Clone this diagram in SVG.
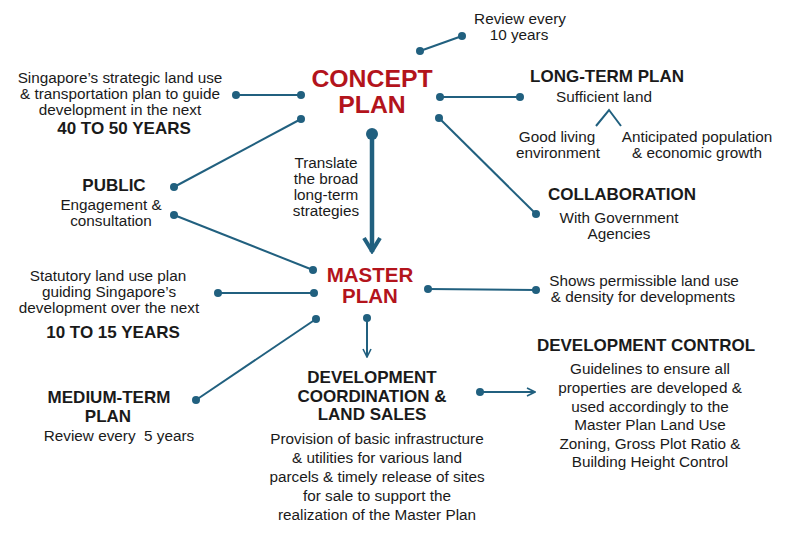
<svg xmlns="http://www.w3.org/2000/svg" width="790" height="535" viewBox="0 0 790 535">
<defs>
<style>
text{font-family:"Liberation Sans",Arial,sans-serif;fill:#1a1a1a;text-anchor:middle}
.b{font-size:15.3px}
.h{font-size:17px;font-weight:bold}
.t{font-weight:bold;fill:#b3141c}
.c{stroke:#21607f;stroke-width:2;fill:none}
.d{fill:#21607f}
</style>
<marker id="chev" viewBox="0 0 10 10" refX="9" refY="5" markerWidth="10" markerHeight="10" markerUnits="userSpaceOnUse" orient="auto"><path d="M1,1 L9,5 L1,9" fill="none" stroke="#21607f" stroke-width="1.6"/></marker>
<marker id="chevb" viewBox="0 0 20 20" refX="18" refY="10" markerWidth="20" markerHeight="20" markerUnits="userSpaceOnUse" orient="auto"><path d="M4,2 L17,10 L4,18" fill="none" stroke="#21607f" stroke-width="4"/></marker>
</defs>
<rect width="790" height="535" fill="#ffffff"/>
<g id="connectors">
<line class="c" x1="420" y1="51" x2="462" y2="36"/>
<line class="c" x1="236" y1="95" x2="301" y2="95"/>
<line class="c" x1="301" y1="119" x2="174" y2="187"/>
<line class="c" x1="174" y1="215" x2="313" y2="270"/>
<line class="c" x1="218" y1="293" x2="314" y2="293"/>
<line class="c" x1="316" y1="319" x2="196" y2="400"/>
<line class="c" x1="367" y1="318" x2="367" y2="357" marker-end="url(#chev)"/>
<line class="c" x1="428" y1="289" x2="536" y2="290"/>
<line class="c" x1="480" y1="392" x2="535" y2="392" marker-end="url(#chev)"/>
<line class="c" x1="440" y1="97" x2="520" y2="97"/>
<line class="c" x1="439" y1="118" x2="536" y2="214"/>
<line x1="372" y1="134" x2="372" y2="252" stroke="#21607f" stroke-width="4.5" marker-end="url(#chevb)"/>
<polyline class="c" points="596,126 609,110 621,126"/>
<g class="d">
<circle cx="420" cy="51" r="4"/><circle cx="462" cy="36" r="4"/>
<circle cx="236" cy="95" r="4"/><circle cx="301" cy="95" r="4"/>
<circle cx="301" cy="119" r="4"/><circle cx="174" cy="187" r="4"/>
<circle cx="174" cy="215" r="4"/><circle cx="313" cy="270" r="4"/>
<circle cx="218" cy="293" r="4"/><circle cx="314" cy="293" r="4"/>
<circle cx="316" cy="319" r="4"/><circle cx="196" cy="400" r="4"/>
<circle cx="367" cy="318" r="4"/>
<circle cx="428" cy="289" r="4"/><circle cx="536" cy="290" r="4"/>
<circle cx="480" cy="392" r="4"/>
<circle cx="440" cy="97" r="4"/><circle cx="520" cy="97" r="4"/>
<circle cx="439" cy="118" r="4"/><circle cx="536" cy="214" r="4"/>
<circle cx="372" cy="134" r="6"/>
</g>
</g>
<g id="concept-plan">
<text class="t" x="372" y="87" font-size="24.8">CONCEPT</text>
<text class="t" x="372" y="113" font-size="24.8">PLAN</text>
</g>
<g id="master-plan">
<text class="t" x="370" y="282" font-size="20.5">MASTER</text>
<text class="t" x="370" y="303" font-size="20.5">PLAN</text>
</g>
<g id="review-10">
<text class="b" x="520" y="24">Review every</text>
<text class="b" x="519" y="40">10 years</text>
</g>
<g id="strategic">
<text class="b" x="120" y="83">Singapore’s strategic land use</text>
<text class="b" x="120" y="99">&amp; transportation plan to guide</text>
<text class="b" x="120" y="115">development in the next</text>
<text class="h" x="124" y="134">40 TO 50 YEARS</text>
</g>
<g id="public">
<text class="h" x="114" y="191">PUBLIC</text>
<text class="b" x="111" y="210">Engagement &amp;</text>
<text class="b" x="111" y="226">consultation</text>
</g>
<g id="translate">
<text class="b" x="326" y="168">Translate</text>
<text class="b" x="326" y="184">the broad</text>
<text class="b" x="326" y="200">long-term</text>
<text class="b" x="326" y="216">strategies</text>
</g>
<g id="long-term-plan">
<text class="h" x="607" y="82">LONG-TERM PLAN</text>
<text class="b" x="604" y="102">Sufficient land</text>
<text class="b" x="557" y="142">Good living</text>
<text class="b" x="558" y="158">environment</text>
<text class="b" x="697" y="142">Anticipated population</text>
<text class="b" x="697" y="158">&amp; economic growth</text>
</g>
<g id="collaboration">
<text class="h" x="622" y="200">COLLABORATION</text>
<text class="b" x="619" y="223">With Government</text>
<text class="b" x="619" y="239">Agencies</text>
</g>
<g id="statutory">
<text class="b" x="108" y="281">Statutory land use plan</text>
<text class="b" x="109" y="297">guiding Singapore’s</text>
<text class="b" x="109" y="313">development over the next</text>
<text class="h" x="113" y="338">10 TO 15 YEARS</text>
</g>
<g id="medium-term-plan">
<text class="h" x="109" y="403">MEDIUM-TERM</text>
<text class="h" x="108" y="422">PLAN</text>
<text class="b" x="119" y="441" xml:space="preserve">Review every  5 years</text>
</g>
<g id="permissible">
<text class="b" x="644" y="286">Shows permissible land use</text>
<text class="b" x="643" y="302">&amp; density for developments</text>
</g>
<g id="development-coordination">
<text class="h" x="372" y="383">DEVELOPMENT</text>
<text class="h" x="372" y="402">COORDINATION &amp;</text>
<text class="h" x="372" y="420">LAND SALES</text>
<text class="b" x="377" y="444">Provision of basic infrastructure</text>
<text class="b" x="377" y="463">&amp; utilities for various land</text>
<text class="b" x="377" y="482">parcels &amp; timely release of sites</text>
<text class="b" x="377" y="501">for sale to support the</text>
<text class="b" x="377" y="520">realization of the Master Plan</text>
</g>
<g id="development-control">
<text class="h" x="646" y="351">DEVELOPMENT CONTROL</text>
<text class="b" x="650" y="374">Guidelines to ensure all</text>
<text class="b" x="650" y="393">properties are developed &amp;</text>
<text class="b" x="650" y="412">used accordingly to the</text>
<text class="b" x="650" y="430">Master Plan Land Use</text>
<text class="b" x="650" y="449">Zoning, Gross Plot Ratio &amp;</text>
<text class="b" x="650" y="467">Building Height Control</text>
</g>
</svg>
